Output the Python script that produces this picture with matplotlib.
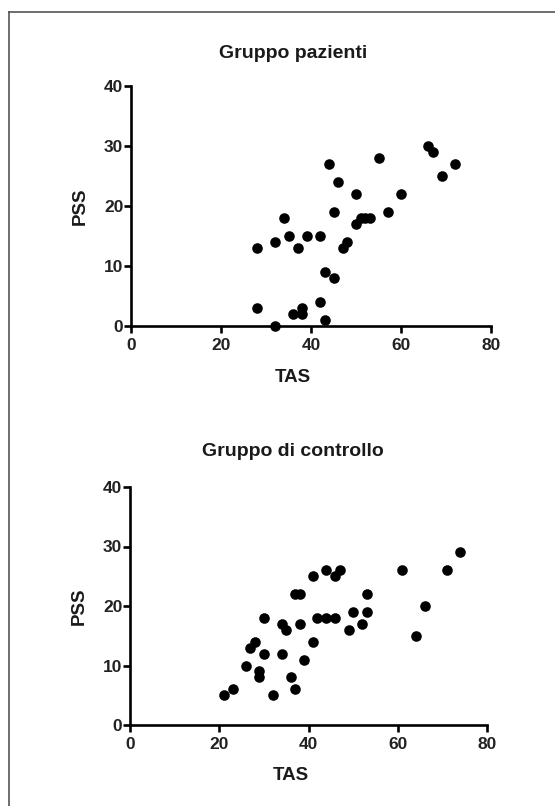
import matplotlib
matplotlib.use("Agg")
import matplotlib.pyplot as plt
from matplotlib.lines import Line2D

plt.rcParams["font.family"] = ["Liberation Sans", "DejaVu Sans"]
plt.rcParams["font.weight"] = "bold"

# Gruppo pazienti
PAZ_TAS = [28, 28, 32, 32, 34, 35, 37, 39, 36, 38, 38, 42, 42, 43, 43, 44, 45, 45,
           46, 47, 48, 50, 50, 51, 52, 53, 55, 57, 60, 66, 67, 69, 72]
PAZ_PSS = [13, 3, 0, 14, 18, 15, 13, 15, 2, 3, 2, 15, 4, 9, 1, 27, 8, 19,
           24, 13, 14, 22, 17, 18, 18, 18, 28, 19, 22, 30, 29, 25, 27]

# Gruppo di controllo
CTRL_TAS = [21, 23, 26, 27, 28, 29, 29, 30, 30, 32, 34, 34, 35, 36, 37, 37, 38, 38,
            39, 41, 41, 42, 44, 44, 46, 47, 46, 49, 50, 52, 53, 53, 61, 64, 66, 71, 74]
CTRL_PSS = [5, 6, 10, 13, 14, 9, 8, 18, 12, 5, 17, 12, 16, 8, 6, 22, 22, 17,
            11, 25, 14, 18, 26, 18, 25, 26, 18, 16, 19, 17, 22, 19, 26, 15, 20, 26, 29]

X_TICKS = [0, 20, 40, 60, 80]
Y_TICKS = [0, 10, 20, 30, 40]

W, H = 555, 806
INK = "#1a1a1a"


def style_axis(ax, title, title_x, title_pad):
    for side in ("top", "right"):
        ax.spines[side].set_visible(False)
    for side in ("left", "bottom"):
        ax.spines[side].set_linewidth(1.9)
        ax.spines[side].set_color("black")
    ax.set_xlim(0, 80)
    ax.set_ylim(0, 40)
    ax.set_xticks(X_TICKS)
    ax.set_yticks(Y_TICKS)
    ax.tick_params(direction="out", length=5, width=1.9, labelsize=12.5,
                   colors="black")
    ax.tick_params(axis="x", pad=3.5)
    ax.tick_params(axis="y", pad=0.5)
    for lab in ax.get_xticklabels() + ax.get_yticklabels():
        lab.set_fontweight("bold")
        lab.set_color("#222222")
    ax.set_title(title, fontsize=14, fontweight="bold", x=title_x, pad=title_pad,
                 color=INK)
    ax.set_xlabel("TAS", fontsize=13.5, fontweight="bold", color=INK)
    ax.set_ylabel("PSS", fontsize=13.5, fontweight="bold", color=INK)
    ax.xaxis.set_label_coords(0.45, -0.178)
    ax.yaxis.set_label_coords(-0.118, 0.5)
    for sp in ax.spines.values():
        sp.set_clip_on(False)


fig = plt.figure(figsize=(W / 100, H / 100), dpi=100)
fig.patch.set_facecolor("white")

ax1 = fig.add_axes([131 / W, 1 - 326 / H, 360 / W, 240 / H])
ax1.scatter(PAZ_TAS, PAZ_PSS, s=58, color="black", clip_on=False, zorder=3,
            linewidths=0)
style_axis(ax1, "Gruppo pazienti", 0.45, 20)

ax2 = fig.add_axes([130 / W, 1 - 725 / H, 357 / W, 238 / H])
ax2.scatter(CTRL_TAS, CTRL_PSS, s=58, color="black", clip_on=False, zorder=3,
            linewidths=0)
style_axis(ax2, "Gruppo di controllo", 0.455, 22)

# page frame (top and left edges visible)
fig.add_artist(Line2D([8.5 / W, 1.0], [1 - 12 / H, 1 - 12 / H], color="#555555",
                      lw=1.2, transform=fig.transFigure))
fig.add_artist(Line2D([8.5 / W, 8.5 / W], [0.0, 1 - 12 / H], color="#555555",
                      lw=1.2, transform=fig.transFigure))

fig.savefig("out.png", dpi=100, facecolor="white")
